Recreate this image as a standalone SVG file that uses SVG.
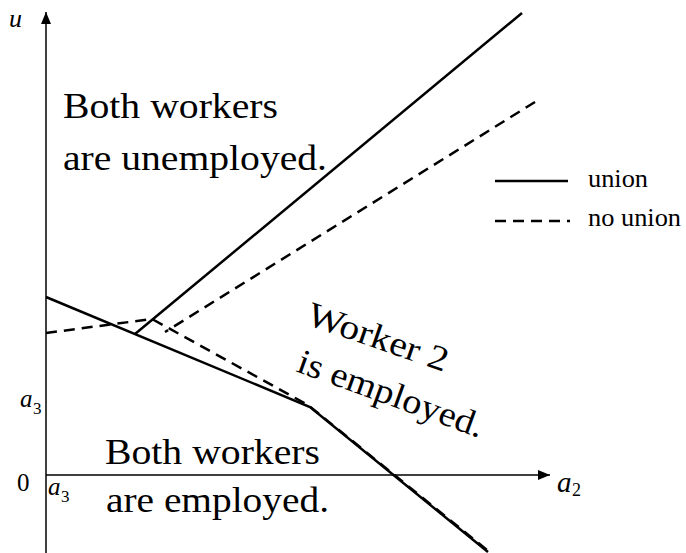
<svg xmlns="http://www.w3.org/2000/svg" width="686" height="553" viewBox="0 0 686 553">
<style>
.ax{stroke:#000;stroke-width:1.5;fill:none}
.sol{stroke:#000;stroke-width:2.5;fill:none}
.dsh{stroke:#000;stroke-width:2.5;fill:none;stroke-dasharray:11 7}
</style>
<defs>
<marker id="ah" markerWidth="12" markerHeight="10" refX="12" refY="5" orient="auto" markerUnits="userSpaceOnUse">
<path d="M0,0 L12,5 L0,10 Z" fill="#000"/>
</marker>
</defs>
<g id="axes">
<line class="ax" x1="46" y1="553" x2="46" y2="12" marker-end="url(#ah)"/>
<line class="ax" x1="46" y1="475" x2="550" y2="475" marker-end="url(#ah)"/>
</g>
<g id="connectors">
<polyline class="sol" points="46,297 310,407 488,552"/>
<line class="sol" x1="135" y1="334" x2="522" y2="13"/>
<polyline class="dsh" points="46,333 152,319 308,405 487,550"/>
<line class="dsh" x1="535" y1="102" x2="165" y2="332"/>
</g>
<g id="labels" font-family="Liberation Serif, serif" fill="#000">
<text x="9" y="27" font-size="26" font-style="italic">u</text>
<text x="20" y="407" font-size="25" font-style="italic">a</text>
<text x="33" y="414" font-size="17">3</text>
<text x="17" y="491" font-size="25">0</text>
<text x="48" y="495" font-size="25" font-style="italic">a</text>
<text x="61" y="502" font-size="17">3</text>
<text x="557" y="492" font-size="29" font-style="italic">a</text>
<text x="572" y="496" font-size="18">2</text>
</g>
<g id="region-unemployed" font-family="Liberation Serif, serif" font-size="35" fill="#000">
<text x="63" y="118" textLength="215" lengthAdjust="spacingAndGlyphs">Both workers</text>
<text x="63" y="170" textLength="264" lengthAdjust="spacingAndGlyphs">are unemployed.</text>
</g>
<g id="region-employed" font-family="Liberation Serif, serif" font-size="35" fill="#000">
<text x="105" y="464" textLength="215" lengthAdjust="spacingAndGlyphs">Both workers</text>
<text x="106" y="512" textLength="223" lengthAdjust="spacingAndGlyphs">are employed.</text>
</g>
<g id="region-worker2" font-family="Liberation Serif, serif" font-size="35" fill="#000">
<text transform="translate(305,324) rotate(19)" textLength="147" lengthAdjust="spacingAndGlyphs">Worker 2</text>
<text transform="translate(295,371) rotate(20)" textLength="196" lengthAdjust="spacingAndGlyphs">is employed.</text>
</g>
<g id="legend" font-family="Liberation Serif, serif" font-size="25" fill="#000">
<line class="sol" x1="495" y1="181" x2="568" y2="181"/>
<text x="588" y="187" textLength="60" lengthAdjust="spacingAndGlyphs">union</text>
<line class="dsh" x1="495" y1="221" x2="570" y2="221" stroke-dasharray="10 7"/>
<text x="588" y="226" textLength="93" lengthAdjust="spacingAndGlyphs">no union</text>
</g>
</svg>
